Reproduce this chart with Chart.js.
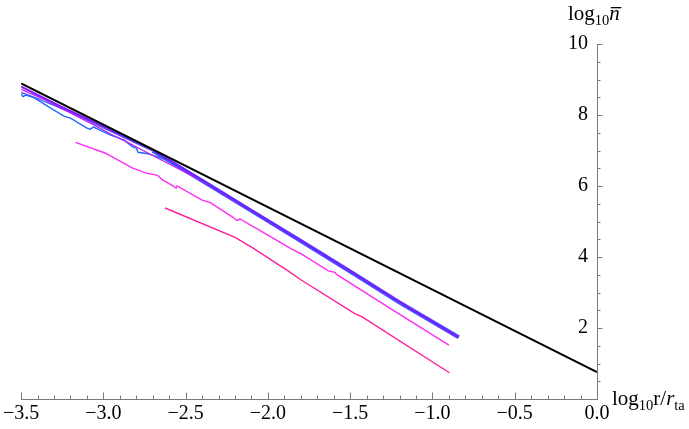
<!DOCTYPE html>
<html>
<head>
<meta charset="utf-8">
<script src="https://cdn.jsdelivr.net/npm/chart.js@4.4.1/dist/chart.umd.min.js"></script>
<style>
  html, body { margin: 0; padding: 0; background: #fff; }
</style>
</head>
<body>
<canvas id="chart" width="689" height="429"></canvas>
<script>
// x = log10 r/r_ta, y = log10 n-bar
const xRange = [-3.5, 0];
const yRange = [0, 10];

const refX = [-3.5, 0];
const refY = [8.89, 0.76];

const violetX = [-3.5, -3.25, -3.0, -2.7, -2.4, -2.1, -1.8, -1.5, -1.2, -0.845];
const violetY = [8.80, 8.22, 7.68, 7.02, 6.16, 5.31, 4.46, 3.60, 2.73, 1.75];

const purpleX = [-3.5, -3.35, -3.2, -3.05, -2.95, -2.85, -2.75, -2.6, -2.4, -2.1, -1.8, -1.5, -1.2, -0.855];
const purpleY = [8.72, 8.42, 8.06, 7.70, 7.45, 7.22, 6.98, 6.62, 6.14, 5.30, 4.45, 3.60, 2.74, 1.76];

const blueX = [-3.5, -3.4, -3.3, -3.2, -3.1, -3.0, -2.9, -2.8, -2.7, -2.4, -2.1, -1.8, -1.5, -1.2, -0.84];
const blueY = [8.64, 8.46, 8.27, 8.07, 7.86, 7.64, 7.42, 7.20, 6.99, 6.15, 5.30, 4.45, 3.59, 2.72, 1.74];

const stepX = [-3.5, -3.49, -3.47, -3.42, -3.34, -3.24, -3.2, -3.1, -3.08, -3.06, -2.96, -2.875, -2.825, -2.8, -2.79, -2.73, -2.61, -2.4, -2.1, -1.8, -1.5, -1.2, -0.85];
const stepY = [8.60, 8.52, 8.56, 8.48, 8.25, 7.97, 7.91, 7.63, 7.60, 7.66, 7.44, 7.30, 7.11, 7.07, 6.95, 6.91, 6.72, 6.14, 5.29, 4.44, 3.58, 2.71, 1.73];

const magentaX = [-3.17, -2.99, -2.825, -2.745, -2.672, -2.643, -2.572, -2.558, -2.552, -2.40, -2.35, -2.21, -2.19, -2.17, -2.06, -1.855, -1.795, -1.633, -1.593, -1.583, -1.25, -0.90];
const magentaY = [7.23, 6.93, 6.51, 6.37, 6.30, 6.18, 5.99, 5.94, 6.00, 5.60, 5.53, 5.11, 5.03, 5.07, 4.78, 4.22, 4.08, 3.61, 3.57, 3.51, 2.53, 1.52];

const pinkX = [-2.625, -2.20, -2.09, -1.885, -1.80, -1.47, -1.455, -1.43, -0.897];
const pinkY = [5.38, 4.55, 4.25, 3.63, 3.36, 2.40, 2.37, 2.32, 0.74];

const serif = "'Liberation Serif', 'Times New Roman', serif";
const axisGray = '#7a7a7a';

const pts = (xs, ys) => xs.map((x, i) => ({ x, y: ys[i] }));

const line = (xs, ys, color, width, extra) => Object.assign({
  data: pts(xs, ys),
  borderColor: color,
  borderWidth: width,
  pointRadius: 0,
  tension: 0,
  fill: false
}, extra || {});

// minor/major tick marks drawn through the scales (Mathematica style)
const tickMarks = {
  id: 'tickMarks',
  afterDraw(chart) {
    const { ctx, scales: { x, y } } = chart;
    const y0 = y.getPixelForValue(0);
    const x0 = x.getPixelForValue(0);
    ctx.save();
    ctx.strokeStyle = axisGray;
    ctx.lineWidth = 1;
    ctx.beginPath();
    for (let i = 0; i <= 35; i++) {
      const v = -3.5 + i * 0.1;
      const px = Math.round(x.getPixelForValue(v)) + 0.5;
      const len = i % 5 === 0 ? 6.5 : 3.5;
      ctx.moveTo(px, y0);
      ctx.lineTo(px, y0 - len);
    }
    for (let i = 1; i <= 20; i++) {
      const py = Math.round(y.getPixelForValue(i * 0.5)) + 0.5;
      const len = i % 4 === 0 ? 5.5 : 3.5;
      ctx.moveTo(x0, py);
      ctx.lineTo(x0 + len, py);
    }
    ctx.stroke();

    // axis labels
    ctx.fillStyle = '#000';
    ctx.textBaseline = 'alphabetic';
    ctx.textAlign = 'left';
    const run = (parts, px, py) => {
      for (const p of parts) {
        ctx.font = p.font;
        ctx.fillText(p.t, px, py + (p.dy || 0));
        const w = ctx.measureText(p.t).width;
        if (p.bar) {
          ctx.fillRect(px + 1.5, py - 13, w, 1.3);
        }
        px += w;
      }
    };
    const big = '21px ' + serif;
    const small = '14.5px ' + serif;
    const ital = 'italic 21px ' + serif;
    run([
      { t: 'log', font: big },
      { t: '10', font: small, dy: 5 },
      { t: 'n', font: ital, bar: true }
    ], x0 - 29, chart.chartArea.top - 24);
    run([
      { t: 'log', font: big },
      { t: '10', font: small, dy: 5 },
      { t: 'r/', font: big },
      { t: 'r', font: ital },
      { t: 'ta', font: small, dy: 5 }
    ], x0 + 15, y0 + 6);
    ctx.restore();
  }
};

new Chart(document.getElementById('chart'), {
  type: 'line',
  data: {
    datasets: [
      line(refX, refY, '#000000', 2),
      line(violetX, violetY, '#7f1cff', 2),
      line(purpleX, purpleY, '#c41cff', 1.3),
      line(stepX, stepY, '#2466ff', 1.4),
      line(blueX, blueY, '#3a55ff', 1.4, {
        segment: { borderWidth: ctx => ctx.p0.parsed.x >= -2.75 ? 4 : 1.4 }
      }),
      line(magentaX, magentaY, '#ff2cf4', 1.4),
      line(pinkX, pinkY, '#ff1f9a', 1.4)
    ]
  },
  options: {
    responsive: false,
    animation: false,
    layout: { padding: { left: 20, right: 92, top: 44, bottom: 0 } },
    plugins: { legend: { display: false }, tooltip: { enabled: false } },
    scales: {
      x: {
        type: 'linear',
        position: 'bottom',
        min: xRange[0],
        max: xRange[1],
        grid: { display: false, drawTicks: false, tickLength: 0 },
        border: { display: true, color: axisGray, width: 1 },
        ticks: {
          stepSize: 0.5,
          autoSkip: false,
          maxRotation: 0,
          padding: 3,
          color: '#000',
          font: { family: serif, size: 20 },
          callback: v => (v < 0 ? '\u2212' : '') + Math.abs(v).toFixed(1)
        },
        afterFit: s => { s.height = 30; }
      },
      y: {
        type: 'linear',
        position: 'right',
        min: yRange[0],
        max: yRange[1],
        grid: { display: false, drawTicks: false, tickLength: 0 },
        border: { display: true, color: axisGray, width: 1 },
        ticks: {
          stepSize: 2,
          mirror: true,
          padding: -9,
          color: '#000',
          font: { family: serif, size: 20 },
          callback: v => v === 0 ? '' : String(v)
        },
        afterFit: s => { s.width = 0; }
      }
    }
  },
  plugins: [tickMarks]
});
</script>
</body>
</html>
